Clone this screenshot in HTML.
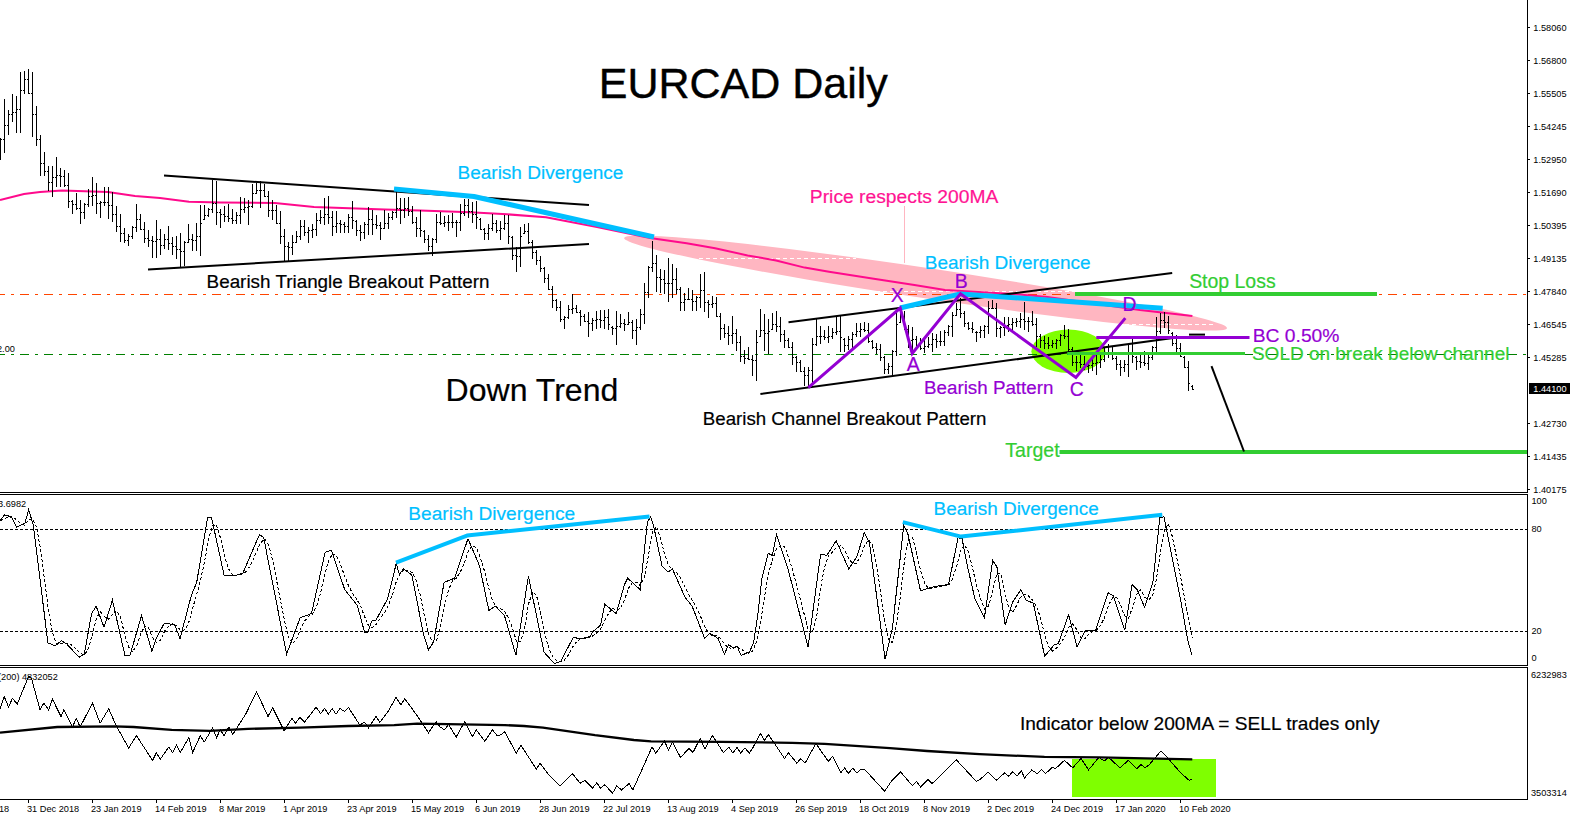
<!DOCTYPE html>
<html><head><meta charset="utf-8"><title>EURCAD Daily</title>
<style>
html,body{margin:0;padding:0;background:#fff;width:1573px;height:817px;overflow:hidden}
svg{display:block}
text{font-family:"Liberation Sans",sans-serif}
.ax{font-size:9.2px;fill:#000}
.lb{font-size:19px}
</style></head><body>
<svg width="1573" height="817" viewBox="0 0 1573 817">
<rect x="0" y="0" width="1573" height="817" fill="#fff"/>

<ellipse cx="925.5" cy="283.06" rx="304.8" ry="15.18" transform="rotate(8.51 925.5 283.06)" fill="#FFB6C1"/>
<path d="M699 258.5H856M1125 324.5H1215M876 291.5H1075" stroke="#fff" stroke-width="1" stroke-dasharray="4,3" fill="none"/>
<path d="M904.5 206V263" stroke="#FFB6C1" stroke-width="1"/>
<ellipse cx="1068.4" cy="351.3" rx="37" ry="21.7" fill="#7FFF00"/>
<path d="M0 294.5H1527" stroke="#FF4500" stroke-width="1" stroke-dasharray="9,6,3,6" stroke-dashoffset="4" fill="none"/>
<path d="M0 354.5H1527" stroke="#008000" stroke-width="1" stroke-dasharray="9,6,3,6" stroke-dashoffset="4" fill="none"/>
<polyline points="0.0,200.0 24.0,194.0 40.0,192.0 62.0,190.6 108.0,192.0 135.0,196.0 160.0,198.0 189.0,201.7 220.8,202.6 274.9,203.0 314.0,207.0 385.0,209.5 420.0,210.5 470.0,212.2 507.0,214.3 546.0,217.3 597.0,227.0 650.0,238.1 686.6,243.2 715.1,248.3 747.6,255.4 776.1,260.5 804.6,267.6 829.0,271.7 873.8,278.8 914.4,284.9 945.0,290.0 970.0,291.5 1012.0,294.0 1047.5,297.0 1090.0,303.0 1140.0,310.0 1192.4,315.9" fill="none" stroke="#FF0A8C" stroke-width="2"/>
<path d="M0.5 138V160M4.5 99V153M8.5 110V135M12.5 94V122M16.5 96V133M20.5 72V133M24.5 71V94M28.5 69V94M32.5 72V137M36.5 106V146M40.5 135V176M44.5 152V176M48.5 166V191M52.5 166V197M56.5 157V187M60.5 168V187M64.5 170V187M68.5 173V208M72.5 200V214M76.5 193V210M80.5 200V224M84.5 203V219M88.5 189V207M92.5 177V206M96.5 183V214M100.5 201V218M104.5 187V206M108.5 187V219M112.5 192V222M116.5 206V232M120.5 214V242M124.5 228V243M128.5 234V246M132.5 226V239M136.5 204V232M140.5 214V230M144.5 222V243M148.5 230V247M152.5 236V258M156.5 220V258M160.5 229V255M164.5 234V249M168.5 226V250M172.5 237V255M176.5 236V259M180.5 233V267M184.5 241V266M188.5 224V243M192.5 234V251M196.5 223V251M200.5 205V256M204.5 205V220M208.5 208V217M212.5 180V213M216.5 181V225M220.5 209V228M224.5 206V222M228.5 204V222M232.5 209V224M236.5 212V224M240.5 197V224M244.5 198V213M248.5 200V225M252.5 184V208M256.5 183V194M260.5 181V208M264.5 184V197M268.5 191V217M272.5 200V220M276.5 205V224M280.5 211V244M284.5 229V261M288.5 242V261M292.5 235V255M296.5 231V243M300.5 220V240M304.5 220V236M308.5 227V243M312.5 224V238M316.5 213V236M320.5 210V224M324.5 198V225M328.5 196V224M332.5 211V236M336.5 211V233M340.5 220V233M344.5 222V233M348.5 214V233M352.5 201V229M356.5 220V236M360.5 225V241M364.5 222V239M368.5 207V235M372.5 210V235M376.5 215V229M380.5 222V240M384.5 210V229M388.5 213V229M392.5 211V220M396.5 192V218M400.5 198V224M404.5 198V218M408.5 197V216M412.5 206V224M416.5 217V237M420.5 210V237M424.5 230V243M428.5 235V251M432.5 238V256M436.5 214V243M440.5 212V225M444.5 216V227M448.5 215V231M452.5 213V228M456.5 220V237M460.5 204V231M464.5 199V216M468.5 199V218M472.5 202V223M476.5 201V229M480.5 218V230M484.5 228V240M488.5 224V240M492.5 214V231M496.5 220V233M500.5 221V240M504.5 215V230M508.5 215V244M512.5 236V260M516.5 247V272M520.5 227V267M524.5 224V234M528.5 223V244M532.5 240V259M536.5 250V265M540.5 256V272M544.5 267V283M548.5 274V290M552.5 286V308M556.5 299V311M560.5 301V322M564.5 316V329M568.5 305V319M572.5 294V314M576.5 305V313M580.5 310V326M584.5 314V322M588.5 312V337M592.5 318V331M596.5 311V329M600.5 310V328M604.5 310V329M608.5 309V330M612.5 326V335M616.5 311V345M620.5 314V328M624.5 319V331M628.5 312V325M632.5 320V339M636.5 319V345M640.5 309V330M644.5 283V324M648.5 266V298M652.5 241V272M656.5 255V292M660.5 269V293M664.5 270V294M668.5 258V302M672.5 264V298M676.5 268V294M680.5 287V311M684.5 293V311M688.5 288V300M692.5 290V311M696.5 296V311M700.5 274V308M704.5 272V312M708.5 300V318M712.5 296V308M716.5 297V317M720.5 313V340M724.5 324V338M728.5 326V345M732.5 316V344M736.5 329V351M740.5 336V362M744.5 350V364M748.5 347V360M752.5 355V376M756.5 330V381M760.5 309V337M764.5 314V351M768.5 319V354M772.5 313V330M776.5 311V332M780.5 317V342M784.5 330V348M788.5 338V348M792.5 342V365M796.5 356V372M800.5 360V372M804.5 367V386M808.5 367V386M812.5 338V384M816.5 319V346M820.5 326V344M824.5 330V340M828.5 326V343M832.5 328V339M836.5 317V335M840.5 316V352M844.5 338V352M848.5 336V350M852.5 332V348M856.5 323V337M860.5 323V337M864.5 322V332M868.5 323V343M872.5 340V349M876.5 343V354M880.5 344V361M884.5 356V374M888.5 363V374M892.5 350V376M896.5 312V356M900.5 309V323M904.5 311V330M908.5 325V348M912.5 327V352M916.5 336V349M920.5 338V350M924.5 340V353M928.5 337V348M932.5 333V352M936.5 334V348M940.5 331V346M944.5 330V346M948.5 325V336M952.5 312V337M956.5 303V316M960.5 298V318M964.5 311V327M968.5 322V330M972.5 322V333M976.5 331V342M980.5 326V338M984.5 325V338M988.5 301V334M992.5 300V309M996.5 303V337M1000.5 326V338M1004.5 317V336M1008.5 317V332M1012.5 318V331M1016.5 318V327M1020.5 313V328M1024.5 302V330M1028.5 317V332M1032.5 311V326M1036.5 318V347M1040.5 334V348M1044.5 336V349M1048.5 337V349M1052.5 340V348M1056.5 339V349M1060.5 334V346M1064.5 325V339M1068.5 329V352M1072.5 347V366M1076.5 356V371M1080.5 355V368M1084.5 356V370M1088.5 360V373M1092.5 356V371M1096.5 352V375M1100.5 354V368M1104.5 348V362M1108.5 344V358M1112.5 347V360M1116.5 356V370M1120.5 360V376M1124.5 360V372M1128.5 344V377M1132.5 338V363M1136.5 356V370M1140.5 352V368M1144.5 351V366M1148.5 354V370M1152.5 346V360M1156.5 317V352M1160.5 313V334M1164.5 312V328M1168.5 316V334M1172.5 332V346M1176.5 335V352M1180.5 343V357M1184.5 356V368M1188.5 361V391M1192.5 385V390" stroke="#000" stroke-width="1" fill="none" shape-rendering="crispEdges"/>
<path d="M-1 149.5h1M1 139.5h1M3 139.5h1M5 125.5h1M7 125.5h1M9 114.5h1M11 114.5h1M13 112.5h1M15 112.5h1M17 109.5h1M19 109.5h1M21 90.5h1M23 90.5h1M25 79.5h1M27 79.5h1M29 93.5h1M31 93.5h1M33 114.5h1M35 114.5h1M37 139.5h1M39 139.5h1M41 163.5h1M43 163.5h1M45 171.5h1M47 171.5h1M49 182.5h1M51 182.5h1M53 177.5h1M55 177.5h1M57 175.5h1M59 175.5h1M61 176.5h1M63 176.5h1M65 185.5h1M67 185.5h1M69 201.5h1M71 201.5h1M73 204.5h1M75 204.5h1M77 208.5h1M79 208.5h1M81 212.5h1M83 212.5h1M85 204.5h1M87 204.5h1M89 196.5h1M91 196.5h1M93 195.5h1M95 195.5h1M97 203.5h1M99 203.5h1M101 202.5h1M103 202.5h1M105 202.5h1M107 202.5h1M109 205.5h1M111 205.5h1M113 214.5h1M115 214.5h1M117 226.5h1M119 226.5h1M121 233.5h1M123 233.5h1M125 240.5h1M127 240.5h1M129 236.5h1M131 236.5h1M133 227.5h1M135 227.5h1M137 219.5h1M139 219.5h1M141 229.5h1M143 229.5h1M145 238.5h1M147 238.5h1M149 240.5h1M151 240.5h1M153 241.5h1M155 241.5h1M157 239.5h1M159 239.5h1M161 245.5h1M163 245.5h1M165 239.5h1M167 239.5h1M169 243.5h1M171 243.5h1M173 246.5h1M175 246.5h1M177 249.5h1M179 249.5h1M181 251.5h1M183 251.5h1M185 242.5h1M187 242.5h1M189 239.5h1M191 239.5h1M193 240.5h1M195 240.5h1M197 236.5h1M199 236.5h1M201 223.5h1M203 219.5h1M205 215.5h1M207 215.5h1M209 209.5h1M211 209.5h1M213 203.5h1M215 203.5h1M217 212.5h1M219 212.5h1M221 214.5h1M223 214.5h1M225 216.5h1M227 216.5h1M229 218.5h1M231 218.5h1M233 220.5h1M235 220.5h1M237 215.5h1M239 215.5h1M241 209.5h1M243 209.5h1M245 207.5h1M247 207.5h1M249 206.5h1M251 206.5h1M253 193.5h1M255 193.5h1M257 190.5h1M259 190.5h1M261 190.5h1M263 190.5h1M265 196.5h1M267 196.5h1M269 210.5h1M271 210.5h1M273 210.5h1M275 210.5h1M277 223.5h1M279 223.5h1M281 236.5h1M283 236.5h1M285 246.5h1M287 246.5h1M289 247.5h1M291 247.5h1M293 242.5h1M295 242.5h1M297 236.5h1M299 236.5h1M301 226.5h1M303 226.5h1M305 232.5h1M307 232.5h1M309 230.5h1M311 230.5h1M313 229.5h1M315 229.5h1M317 220.5h1M319 220.5h1M321 217.5h1M323 217.5h1M325 214.5h1M327 214.5h1M329 217.5h1M331 217.5h1M333 226.5h1M335 226.5h1M337 223.5h1M339 223.5h1M341 224.5h1M343 224.5h1M345 226.5h1M347 226.5h1M349 217.5h1M351 217.5h1M353 220.5h1M355 221.5h1M357 230.5h1M359 230.5h1M361 232.5h1M363 232.5h1M365 224.5h1M367 224.5h1M369 219.5h1M371 219.5h1M373 224.5h1M375 224.5h1M377 225.5h1M379 225.5h1M381 228.5h1M383 228.5h1M385 223.5h1M387 223.5h1M389 217.5h1M391 217.5h1M393 212.5h1M395 212.5h1M397 208.5h1M399 208.5h1M401 210.5h1M403 210.5h1M405 208.5h1M407 208.5h1M409 211.5h1M411 211.5h1M413 222.5h1M415 222.5h1M417 228.5h1M419 228.5h1M421 230.5h1M423 231.5h1M425 239.5h1M427 239.5h1M429 246.5h1M431 246.5h1M433 239.5h1M435 239.5h1M437 222.5h1M439 222.5h1M441 223.5h1M443 223.5h1M445 222.5h1M447 222.5h1M449 222.5h1M451 222.5h1M453 222.5h1M455 222.5h1M457 222.5h1M459 222.5h1M461 213.5h1M463 213.5h1M465 205.5h1M467 205.5h1M469 211.5h1M471 211.5h1M473 214.5h1M475 214.5h1M477 217.5h1M479 219.5h1M481 229.5h1M483 229.5h1M485 233.5h1M487 233.5h1M489 228.5h1M491 228.5h1M493 223.5h1M495 223.5h1M497 230.5h1M499 230.5h1M501 228.5h1M503 228.5h1M505 223.5h1M507 223.5h1M509 236.5h1M511 237.5h1M513 255.5h1M515 255.5h1M517 256.5h1M519 256.5h1M521 236.5h1M523 233.5h1M525 231.5h1M527 231.5h1M529 242.5h1M531 242.5h1M533 252.5h1M535 252.5h1M537 260.5h1M539 260.5h1M541 268.5h1M543 268.5h1M545 278.5h1M547 278.5h1M549 289.5h1M551 289.5h1M553 300.5h1M555 300.5h1M557 307.5h1M559 307.5h1M561 319.5h1M563 319.5h1M565 317.5h1M567 317.5h1M569 309.5h1M571 309.5h1M573 308.5h1M575 308.5h1M577 312.5h1M579 312.5h1M581 316.5h1M583 316.5h1M585 321.5h1M587 321.5h1M589 323.5h1M591 323.5h1M593 320.5h1M595 320.5h1M597 319.5h1M599 319.5h1M601 320.5h1M603 320.5h1M605 317.5h1M607 317.5h1M609 324.5h1M611 327.5h1M613 328.5h1M615 328.5h1M617 326.5h1M619 326.5h1M621 323.5h1M623 323.5h1M625 324.5h1M627 324.5h1M629 322.5h1M631 322.5h1M633 330.5h1M635 330.5h1M637 327.5h1M639 327.5h1M641 314.5h1M643 314.5h1M645 292.5h1M647 292.5h1M649 267.5h1M651 267.5h1M653 263.5h1M655 263.5h1M657 277.5h1M659 277.5h1M661 279.5h1M663 279.5h1M665 283.5h1M667 283.5h1M669 283.5h1M671 283.5h1M673 279.5h1M675 279.5h1M677 289.5h1M679 289.5h1M681 302.5h1M683 302.5h1M685 299.5h1M687 299.5h1M689 299.5h1M691 299.5h1M693 301.5h1M695 301.5h1M697 297.5h1M699 297.5h1M701 290.5h1M703 290.5h1M705 302.5h1M707 302.5h1M709 304.5h1M711 304.5h1M713 303.5h1M715 303.5h1M717 316.5h1M719 316.5h1M721 328.5h1M723 328.5h1M725 333.5h1M727 333.5h1M729 335.5h1M731 335.5h1M733 333.5h1M735 333.5h1M737 342.5h1M739 342.5h1M741 356.5h1M743 356.5h1M745 358.5h1M747 358.5h1M749 359.5h1M751 359.5h1M753 360.5h1M755 360.5h1M757 342.5h1M759 336.5h1M761 330.5h1M763 330.5h1M765 333.5h1M767 333.5h1M769 331.5h1M771 329.5h1M773 324.5h1M775 324.5h1M777 326.5h1M779 326.5h1M781 334.5h1M783 334.5h1M785 340.5h1M787 340.5h1M789 347.5h1M791 347.5h1M793 357.5h1M795 357.5h1M797 362.5h1M799 362.5h1M801 371.5h1M803 371.5h1M805 375.5h1M807 375.5h1M809 370.5h1M811 370.5h1M813 344.5h1M815 344.5h1M817 336.5h1M819 336.5h1M821 336.5h1M823 336.5h1M825 337.5h1M827 337.5h1M829 336.5h1M831 336.5h1M833 332.5h1M835 332.5h1M837 331.5h1M839 331.5h1M841 337.5h1M843 339.5h1M845 345.5h1M847 345.5h1M849 339.5h1M851 339.5h1M853 334.5h1M855 334.5h1M857 331.5h1M859 331.5h1M861 329.5h1M863 329.5h1M865 330.5h1M867 330.5h1M869 341.5h1M871 341.5h1M873 347.5h1M875 347.5h1M877 349.5h1M879 349.5h1M881 357.5h1M883 357.5h1M885 369.5h1M887 369.5h1M889 366.5h1M891 366.5h1M893 351.5h1M895 351.5h1M897 324.5h1M899 322.5h1M901 316.5h1M903 316.5h1M905 329.5h1M907 329.5h1M909 340.5h1M911 340.5h1M913 339.5h1M915 339.5h1M917 345.5h1M919 345.5h1M921 348.5h1M923 348.5h1M925 346.5h1M927 346.5h1M929 344.5h1M931 344.5h1M933 339.5h1M935 339.5h1M937 341.5h1M939 341.5h1M941 341.5h1M943 341.5h1M945 332.5h1M947 332.5h1M949 326.5h1M951 326.5h1M953 315.5h1M955 315.5h1M957 309.5h1M959 309.5h1M961 313.5h1M963 313.5h1M965 323.5h1M967 323.5h1M969 328.5h1M971 328.5h1M973 329.5h1M975 332.5h1M977 332.5h1M979 332.5h1M981 330.5h1M983 330.5h1M985 326.5h1M987 326.5h1M989 308.5h1M991 308.5h1M993 308.5h1M995 308.5h1M997 328.5h1M999 328.5h1M1001 327.5h1M1003 327.5h1M1005 325.5h1M1007 325.5h1M1009 324.5h1M1011 324.5h1M1013 322.5h1M1015 322.5h1M1017 321.5h1M1019 321.5h1M1021 319.5h1M1023 319.5h1M1025 321.5h1M1027 321.5h1M1029 321.5h1M1031 321.5h1M1033 324.5h1M1035 324.5h1M1037 336.5h1M1039 336.5h1M1041 340.5h1M1043 340.5h1M1045 343.5h1M1047 343.5h1M1049 345.5h1M1051 345.5h1M1053 343.5h1M1055 343.5h1M1057 340.5h1M1059 340.5h1M1061 335.5h1M1063 335.5h1M1065 336.5h1M1067 336.5h1M1069 349.5h1M1071 349.5h1M1073 362.5h1M1075 362.5h1M1077 362.5h1M1079 362.5h1M1081 364.5h1M1083 364.5h1M1085 366.5h1M1087 366.5h1M1089 365.5h1M1091 365.5h1M1093 363.5h1M1095 363.5h1M1097 362.5h1M1099 362.5h1M1101 359.5h1M1103 359.5h1M1105 352.5h1M1107 352.5h1M1109 353.5h1M1111 353.5h1M1113 358.5h1M1115 358.5h1M1117 364.5h1M1119 364.5h1M1121 367.5h1M1123 367.5h1M1125 364.5h1M1127 364.5h1M1129 353.5h1M1131 353.5h1M1133 356.5h1M1135 357.5h1M1137 361.5h1M1139 361.5h1M1141 362.5h1M1143 362.5h1M1145 363.5h1M1147 363.5h1M1149 357.5h1M1151 357.5h1M1153 347.5h1M1155 347.5h1M1157 331.5h1M1159 331.5h1M1161 320.5h1M1163 320.5h1M1165 322.5h1M1167 322.5h1M1169 330.5h1M1171 333.5h1M1173 343.5h1M1175 343.5h1M1177 348.5h1M1179 348.5h1M1181 356.5h1M1183 357.5h1M1185 367.5h1M1187 367.5h1M1189 383.5h1M1191 386.5h1M1193 389.5h1" stroke="#000" stroke-width="1" fill="none" shape-rendering="crispEdges"/>
<path d="M164 175.5L589 205M148 269.5L589 244" stroke="#000" stroke-width="2" fill="none"/>
<path d="M788.5 322.2L1172.2 273.1M760.4 394L1173 338.1" stroke="#000" stroke-width="2" fill="none"/>
<path d="M1189 334.6H1205" stroke="#000" stroke-width="2"/>
<path d="M394 189L474 196.5L654 237M900 308L960.5 293.9L1162.7 308.2" stroke="#00BFFF" stroke-width="5" fill="none" stroke-linejoin="round"/>
<polyline points="808.3,387.7 900.2,308 912.2,353.4 960.5,293.9 1075.9,377.4 1125.3,318.1" fill="none" stroke="#9400D3" stroke-width="3" stroke-linejoin="miter"/>
<path d="M1096.3 337.5H1249.5" stroke="#9400D3" stroke-width="3"/>
<path d="M1075 294H1377M1059.5 452H1527" stroke="#32CD32" stroke-width="4"/>
<path d="M1067.3 353.5H1245" stroke="#32CD32" stroke-width="3"/>
<path d="M1211.5 366.2L1244 451.5" stroke="#000" stroke-width="2"/>
<text transform="translate(598.77,97.8) scale(1,1.0)" font-size="43.01" fill="#000" stroke="#000" stroke-width="0.4">EURCAD Daily</text>
<text transform="translate(457.47,178.5) scale(1,1.0)" font-size="19.02" fill="#00BFFF"  stroke="#00BFFF" stroke-width="0.2">Bearish Divergence</text>
<text transform="translate(809.85,202.7) scale(1,1.0)" font-size="19.28" fill="#FF1493"  stroke="#FF1493" stroke-width="0.2">Price respects 200MA</text>
<text transform="translate(924.78,268.6) scale(1,1.0)" font-size="19.0" fill="#00BFFF"  stroke="#00BFFF" stroke-width="0.2">Bearish Divergence</text>
<text transform="translate(206.59,288.3) scale(1,1.0)" font-size="18.85" fill="#000"  stroke="#000" stroke-width="0.2">Bearish Triangle Breakout Pattern</text>
<text transform="translate(1189.13,287.7) scale(1,1.0)" font-size="19.47" fill="#32CD32"  stroke="#32CD32" stroke-width="0.2">Stop Loss</text>
<text transform="translate(1252.76,342.4) scale(1,1.0)" font-size="19.25" fill="#9400D3"  stroke="#9400D3" stroke-width="0.2">BC 0.50%</text>
<text transform="translate(1251.95,360) scale(1,1.0)" font-size="18.99" fill="#32CD32"  stroke="#32CD32" stroke-width="0.2">SOLD on break below channel</text>
<text transform="translate(445.6,400.8) scale(1,1.0)" font-size="32.04" fill="#000" stroke="#000" stroke-width="0.2">Down Trend</text>
<text transform="translate(923.99,393.7) scale(1,1.0)" font-size="18.79" fill="#9400D3"  stroke="#9400D3" stroke-width="0.2">Bearish Pattern</text>
<text transform="translate(702.8,424.9) scale(1,1.0)" font-size="18.7" fill="#000"  stroke="#000" stroke-width="0.2">Bearish Channel Breakout Pattern</text>
<text transform="translate(1005.31,457.4) scale(1,1.0)" font-size="19.53" fill="#32CD32"  stroke="#32CD32" stroke-width="0.2">Target</text>
<text transform="translate(890.8,302) scale(1,1.06)" font-size="19.4" fill="#9400D3"  stroke="#9400D3" stroke-width="0.2">X</text>
<text transform="translate(906.8,370.5) scale(1,1.06)" font-size="19.4" fill="#9400D3"  stroke="#9400D3" stroke-width="0.2">A</text>
<text transform="translate(954.8,288.3) scale(1,1.06)" font-size="19.4" fill="#9400D3"  stroke="#9400D3" stroke-width="0.2">B</text>
<text transform="translate(1069.8,396.2) scale(1,1.06)" font-size="19.4" fill="#9400D3"  stroke="#9400D3" stroke-width="0.2">C</text>
<text transform="translate(1122.3999999999999,311.3) scale(1,1.06)" font-size="19.4" fill="#9400D3"  stroke="#9400D3" stroke-width="0.2">D</text>
<text x="-3" y="352" class="ax" fill="#000">2.00</text>
<path d="M0 492.5H1527.5V0M0 494.5H1527.5V665.5H0M0 667.5H1527.5V799.5H0" stroke="#000" stroke-width="1" fill="none" shape-rendering="crispEdges"/>
<path d="M1528 27.5h2M1528 60.5h2M1528 93.5h2M1528 126.5h2M1528 159.5h2M1528 192.5h2M1528 225.5h2M1528 258.5h2M1528 291.5h2M1528 324.5h2M1528 357.5h2M1528 423.5h2M1528 456.5h2M1528 489.5h2" stroke="#000" stroke-width="1" shape-rendering="crispEdges"/>
<text x="1533.3" y="31" class="ax">1.58060</text>
<text x="1533.3" y="64" class="ax">1.56800</text>
<text x="1533.3" y="97" class="ax">1.55505</text>
<text x="1533.3" y="130" class="ax">1.54245</text>
<text x="1533.3" y="163" class="ax">1.52950</text>
<text x="1533.3" y="196" class="ax">1.51690</text>
<text x="1533.3" y="229" class="ax">1.50395</text>
<text x="1533.3" y="262" class="ax">1.49135</text>
<text x="1533.3" y="295" class="ax">1.47840</text>
<text x="1533.3" y="328" class="ax">1.46545</text>
<text x="1533.3" y="361" class="ax">1.45285</text>
<text x="1533.3" y="427" class="ax">1.42730</text>
<text x="1533.3" y="460" class="ax">1.41435</text>
<text x="1533.3" y="493" class="ax">1.40175</text>
<rect x="1529" y="383" width="41" height="11" fill="#000"/>
<text x="1533.3" y="392" class="ax" style="fill:#fff">1.44100</text>
<path d="M0 529.5H1527M0 631.5H1527" stroke="#000" stroke-width="1" stroke-dasharray="3,2" shape-rendering="crispEdges"/>
<text x="1531.5" y="504" class="ax">100</text>
<text x="1531.5" y="532" class="ax">80</text>
<text x="1531.5" y="634.4" class="ax">20</text>
<text x="1531.5" y="661.3" class="ax">0</text>
<text x="-2" y="507" class="ax">3.6982</text>
<polyline points="0.5,521.0 4.5,518.3 8.5,517.5 12.5,516.5 16.5,520.0 20.5,523.3 24.5,525.1 28.5,520.4 32.5,518.8 36.5,526.6 40.5,549.0 44.5,579.2 48.5,611.1 52.5,632.9 56.5,644.2 60.5,643.9 64.5,643.1 68.5,643.1 72.5,645.7 76.5,649.6 80.5,653.4 84.5,655.0 88.5,648.3 92.5,633.7 96.5,617.7 100.5,612.0 104.5,616.8 108.5,619.3 112.5,614.3 116.5,610.6 120.5,617.0 124.5,633.7 128.5,646.8 132.5,651.7 136.5,646.1 140.5,634.6 144.5,626.6 148.5,627.6 152.5,637.6 156.5,642.5 160.5,640.3 164.5,631.3 168.5,626.2 172.5,624.0 176.5,625.4 180.5,630.4 184.5,630.0 188.5,623.4 192.5,608.4 196.5,595.3 200.5,580.2 204.5,561.9 208.5,539.8 212.5,525.5 216.5,525.2 220.5,538.0 224.5,556.3 228.5,568.7 232.5,574.9 236.5,575.1 240.5,574.7 244.5,573.2 248.5,568.5 252.5,561.2 256.5,551.9 260.5,543.1 264.5,538.9 268.5,544.6 272.5,559.6 276.5,579.9 280.5,600.3 284.5,620.6 288.5,637.3 292.5,643.7 296.5,639.6 300.5,628.9 304.5,621.1 308.5,616.4 312.5,614.2 316.5,606.5 320.5,593.3 324.5,575.2 328.5,561.2 332.5,553.6 336.5,555.9 340.5,564.2 344.5,575.9 348.5,585.7 352.5,593.3 356.5,598.7 360.5,605.9 364.5,616.4 368.5,625.7 372.5,627.5 376.5,624.1 380.5,617.9 384.5,612.7 388.5,605.1 392.5,594.4 396.5,580.8 400.5,572.9 404.5,569.0 408.5,571.6 412.5,572.4 416.5,581.3 420.5,596.1 424.5,616.1 428.5,633.5 432.5,642.8 436.5,640.5 440.5,626.3 444.5,605.8 448.5,589.9 452.5,581.0 456.5,577.9 460.5,571.7 464.5,562.1 468.5,550.4 472.5,545.7 476.5,548.1 480.5,558.0 484.5,571.0 488.5,587.2 492.5,600.6 496.5,607.3 500.5,608.9 504.5,611.2 508.5,618.1 512.5,628.3 516.5,641.4 520.5,641.9 524.5,629.4 528.5,604.0 532.5,592.2 536.5,595.2 540.5,613.2 544.5,632.6 548.5,647.1 552.5,656.5 556.5,660.2 560.5,661.9 564.5,660.0 568.5,654.8 572.5,647.4 576.5,641.7 580.5,638.7 584.5,638.1 588.5,637.8 592.5,636.1 596.5,633.1 600.5,629.3 604.5,621.0 608.5,613.6 612.5,608.4 616.5,610.2 620.5,608.0 624.5,600.0 628.5,588.3 632.5,582.3 636.5,582.2 640.5,585.8 644.5,576.5 648.5,554.9 652.5,532.1 656.5,526.5 660.5,538.2 664.5,553.7 668.5,565.3 672.5,569.6 676.5,572.7 680.5,577.4 684.5,586.0 688.5,594.0 692.5,600.7 696.5,607.7 700.5,616.2 704.5,626.5 708.5,632.8 712.5,635.6 716.5,635.7 720.5,638.4 724.5,644.5 728.5,647.5 732.5,648.7 736.5,646.5 740.5,648.7 744.5,651.2 748.5,653.2 752.5,651.1 756.5,642.0 760.5,622.8 764.5,597.3 768.5,572.9 772.5,559.6 776.5,548.6 780.5,545.7 784.5,546.3 788.5,557.0 792.5,570.1 796.5,584.4 800.5,599.8 804.5,615.4 808.5,631.0 812.5,631.8 816.5,617.6 820.5,588.4 824.5,567.3 828.5,555.7 832.5,551.9 836.5,547.3 840.5,545.9 844.5,549.6 848.5,558.3 852.5,563.2 856.5,563.1 860.5,556.1 864.5,546.0 868.5,540.0 872.5,545.0 876.5,564.3 880.5,591.4 884.5,621.3 888.5,639.8 892.5,642.7 896.5,624.2 900.5,595.0 904.5,560.3 908.5,539.9 912.5,537.5 916.5,552.5 920.5,570.5 924.5,582.9 928.5,588.8 932.5,588.4 936.5,587.3 940.5,586.4 944.5,585.7 948.5,585.2 952.5,579.1 956.5,566.6 960.5,551.1 964.5,544.8 968.5,551.9 972.5,567.9 976.5,585.3 980.5,598.8 984.5,609.0 988.5,606.3 992.5,591.8 996.5,574.6 1000.5,573.2 1004.5,590.2 1008.5,607.2 1012.5,612.3 1016.5,605.7 1020.5,597.2 1024.5,594.6 1028.5,596.0 1032.5,599.9 1036.5,606.5 1040.5,617.6 1044.5,634.4 1048.5,646.6 1052.5,650.9 1056.5,648.0 1060.5,643.5 1064.5,637.0 1068.5,627.7 1072.5,624.0 1076.5,629.1 1080.5,637.1 1084.5,638.9 1088.5,634.7 1092.5,631.2 1096.5,630.0 1100.5,625.7 1104.5,617.4 1108.5,605.4 1112.5,598.0 1116.5,597.4 1120.5,604.9 1124.5,615.8 1128.5,618.0 1132.5,607.7 1136.5,594.6 1140.5,589.9 1144.5,596.9 1148.5,599.8 1152.5,596.1 1156.5,578.6 1160.5,552.1 1164.5,529.5 1168.5,524.1 1172.5,537.1 1176.5,556.9 1180.5,576.7 1184.5,597.4 1188.5,618.9 1192.5,638.4" fill="none" stroke="#000" stroke-width="1" stroke-dasharray="3,2" shape-rendering="crispEdges"/>
<polyline points="0.0,521.0 4.6,514.8 11.4,516.9 16.6,527.3 25.0,523.0 28.7,509.6 33.3,525.2 47.9,642.8 55.2,645.9 61.4,640.7 66.6,643.8 79.1,657.3 84.3,654.2 91.6,613.6 96.2,606.3 104.0,627.2 112.4,600.1 124.9,655.3 130.0,655.3 141.5,615.7 151.9,651.1 156.1,638.6 164.4,623.0 174.8,625.0 180.0,638.6 191.5,594.9 196.7,582.4 207.5,517.9 211.6,517.9 224.1,575.1 236.6,575.1 242.9,573.0 259.5,534.5 263.7,537.7 286.6,654.2 300.1,617.8 311.5,613.6 325.1,552.2 331.3,550.2 338.6,572.0 344.8,589.7 357.3,605.3 364.6,632.4 367.7,632.4 371.9,620.9 376.1,619.9 387.5,599.1 396.2,563.7 399.4,574.1 403.5,568.9 411.9,575.1 423.3,633.4 428.5,650.0 433.7,641.7 444.1,582.4 454.5,578.2 468.0,538.7 479.5,565.8 488.9,610.5 495.1,606.3 504.5,615.7 515.9,655.3 528.4,576.2 544.0,652.1 554.4,663.6 560.7,661.5 573.1,637.6 581.5,638.6 590.0,636.5 593.3,631.3 600.6,625.1 604.8,604.3 616.2,613.6 624.5,584.5 627.7,578.2 640.2,589.7 647.4,522.1 650.6,516.9 653.7,526.2 662.0,565.8 668.2,572.0 672.4,568.9 684.9,597.0 692.2,606.3 704.7,638.6 709.9,633.4 718.2,638.6 724.4,654.2 728.6,644.8 733.8,648.0 736.9,645.9 741.1,655.3 749.4,652.1 753.6,642.8 757.7,615.7 761.9,578.2 768.1,553.3 772.3,555.4 776.5,534.5 780.0,545.0 788.3,569.9 808.1,646.9 820.6,554.3 826.8,555.4 836.2,540.8 848.7,568.9 857.0,556.4 864.3,532.5 869.5,542.9 885.1,659.4 892.4,628.2 903.8,525.2 908.0,534.5 920.5,590.7 934.0,586.6 948.6,584.5 958.0,537.7 962.1,538.7 967.3,565.8 975.0,599.1 984.4,617.8 992.7,560.6 996.9,566.8 1005.2,625.1 1012.5,602.2 1020.8,589.7 1026.0,600.1 1033.3,603.2 1044.7,656.3 1054.1,644.8 1058.2,643.8 1068.7,614.7 1077.0,646.9 1085.3,630.3 1095.7,630.3 1108.2,592.8 1113.4,595.9 1124.8,630.3 1132.1,584.5 1137.3,589.7 1144.6,607.4 1152.9,582.4 1159.8,517.9 1163.9,516.8 1180.5,599.0 1187.8,640.5 1192.0,655.1" fill="none" stroke="#000" stroke-width="1" shape-rendering="crispEdges"/>
<path d="M396 562.6L467 535.6L649.5 516.4M902.8 522.1L961.1 536.6L1162.3 514.8" stroke="#00BFFF" stroke-width="4" fill="none" stroke-linejoin="round"/>
<text transform="translate(408.37,519.6) scale(1,1.0)" font-size="19.12" fill="#00BFFF"  stroke="#00BFFF" stroke-width="0.2">Bearish Divergence</text>
<text transform="translate(933.58,514.8) scale(1,1.0)" font-size="18.93" fill="#00BFFF"  stroke="#00BFFF" stroke-width="0.2">Bearish Divergence</text>
<rect x="1072" y="759" width="144" height="38" fill="#7FFF00"/>
<polyline points="0.0,732.7 57.2,727.0 114.4,726.4 133.5,727.0 171.7,729.8 209.8,730.8 248.0,728.9 300.0,727.6 348.4,726.0 394.2,725.1 417.1,723.7 447.6,724.1 504.8,725.1 523.9,726.0 543.0,727.6 595.0,735.2 633.9,740.0 651.0,741.3 721.6,741.9 792.2,742.8 824.6,743.8 890.0,748.2 927.0,751.0 979.4,754.2 1044.4,756.9 1099.0,757.3 1192.3,759.4" fill="none" stroke="#000" stroke-width="2.3"/>
<polyline points="0.0,708.9 4.2,696.5 8.6,707.0 12.4,698.4 17.2,704.1 28.6,676.4 31.5,678.4 40.0,709.8 43.9,703.1 48.6,709.8 52.5,699.3 61.0,716.5 63.9,709.8 72.5,727.0 76.3,718.4 80.1,727.0 92.5,703.1 100.1,723.2 108.7,708.9 116.3,726.0 128.7,748.0 136.4,735.6 152.6,760.4 156.4,752.7 160.2,759.4 168.8,747.0 172.6,752.7 176.4,745.1 180.2,752.7 188.8,737.5 192.6,752.7 200.3,735.6 204.1,742.2 212.7,727.9 216.5,737.5 220.3,729.8 224.1,735.6 228.9,727.0 232.7,734.6 246.0,713.6 256.5,691.7 263.2,706.0 268.0,716.5 272.7,707.9 284.2,730.8 291.8,718.4 295.6,723.2 299.8,717.5 304.5,722.2 316.0,707.3 320.7,713.6 324.6,708.5 328.4,714.2 332.2,708.5 336.0,714.2 339.8,708.5 344.6,711.3 348.4,707.3 359.8,725.1 364.6,722.2 368.4,727.9 376.1,716.5 379.9,722.2 388.5,710.8 396.1,697.4 400.9,705.0 404.7,698.8 417.1,715.5 428.5,732.7 436.1,721.6 440.0,727.0 444.7,729.8 448.5,724.5 456.2,737.1 464.7,721.6 472.4,736.5 476.2,729.8 484.8,741.3 492.4,729.8 497.2,735.6 500.0,735.2 504.8,731.8 516.2,753.1 521.0,745.5 536.3,769.0 540.1,763.2 548.7,774.7 560.1,786.1 572.5,773.7 580.1,783.3 584.9,780.4 592.5,788.0 596.7,782.9 600.5,788.0 604.9,784.8 612.5,793.2 616.7,786.1 621.5,789.9 629.1,783.6 632.9,789.9 652.0,747.0 655.8,753.1 664.4,741.3 668.6,749.9 672.4,742.2 680.6,757.5 688.8,748.5 693.0,752.4 700.2,738.4 704.8,748.9 712.4,735.6 723.5,752.7 728.9,747.4 733.0,753.1 736.9,747.4 740.7,753.1 744.9,748.0 749.3,753.1 753.1,747.4 760.3,733.3 764.5,740.3 768.3,734.6 775.0,744.2 784.5,758.5 788.4,752.7 796.9,763.2 800.8,758.5 805.1,763.2 816.0,743.2 820.8,750.8 828.4,761.3 832.6,756.5 840.8,772.8 844.6,768.0 848.4,773.3 852.8,768.0 857.0,773.3 860.8,769.5 864.7,769.5 884.7,791.3 891.3,781.4 900.7,772.0 912.3,785.6 916.5,781.4 920.7,787.1 928.0,779.3 932.2,783.5 956.3,759.8 976.3,781.4 980.4,779.3 987.8,772.0 996.2,780.4 1004.6,773.0 1008.8,776.2 1012.5,772.0 1017.2,775.8 1021.4,770.9 1024.5,777.9 1031.8,769.9 1037.1,773.7 1041.3,769.5 1045.5,773.7 1051.8,767.8 1056.0,768.2 1064.4,760.4 1072.7,767.8 1081.1,758.4 1088.5,769.9 1099.0,757.3 1104.2,761.1 1108.4,757.3 1120.0,767.8 1128.3,760.4 1136.7,768.8 1140.9,764.6 1145.1,767.8 1149.3,764.6 1160.9,751.0 1167.1,757.3 1180.8,773.0 1189.2,780.4 1191.7,779.3" fill="none" stroke="#000" stroke-width="1" shape-rendering="crispEdges"/>
<text x="-2" y="680" class="ax">(200) 4832052</text>
<text x="1531" y="678" class="ax">6232983</text>
<text x="1531" y="795.5" class="ax">3503314</text>
<text transform="translate(1019.89,729.6) scale(1,1.0)" font-size="19.1" fill="#000"  stroke="#000" stroke-width="0.2">Indicator below 200MA = SELL trades only</text>
<path d="M28.5 800V803M92.5 800V803M156.5 800V803M220.5 800V803M284.5 800V803M348.5 800V803M412.5 800V803M476.5 800V803M540.5 800V803M604.5 800V803M668.5 800V803M732.5 800V803M796.5 800V803M860.5 800V803M924.5 800V803M988.5 800V803M1052.5 800V803M1116.5 800V803M1180.5 800V803" stroke="#000" stroke-width="1" shape-rendering="crispEdges"/>
<text x="-1" y="812" class="ax">18</text>
<text x="27" y="812" class="ax">31 Dec 2018</text>
<text x="91" y="812" class="ax">23 Jan 2019</text>
<text x="155" y="812" class="ax">14 Feb 2019</text>
<text x="219" y="812" class="ax">8 Mar 2019</text>
<text x="283" y="812" class="ax">1 Apr 2019</text>
<text x="347" y="812" class="ax">23 Apr 2019</text>
<text x="411" y="812" class="ax">15 May 2019</text>
<text x="475" y="812" class="ax">6 Jun 2019</text>
<text x="539" y="812" class="ax">28 Jun 2019</text>
<text x="603" y="812" class="ax">22 Jul 2019</text>
<text x="667" y="812" class="ax">13 Aug 2019</text>
<text x="731" y="812" class="ax">4 Sep 2019</text>
<text x="795" y="812" class="ax">26 Sep 2019</text>
<text x="859" y="812" class="ax">18 Oct 2019</text>
<text x="923" y="812" class="ax">8 Nov 2019</text>
<text x="987" y="812" class="ax">2 Dec 2019</text>
<text x="1051" y="812" class="ax">24 Dec 2019</text>
<text x="1115" y="812" class="ax">17 Jan 2020</text>
<text x="1179" y="812" class="ax">10 Feb 2020</text>
</svg></body></html>
